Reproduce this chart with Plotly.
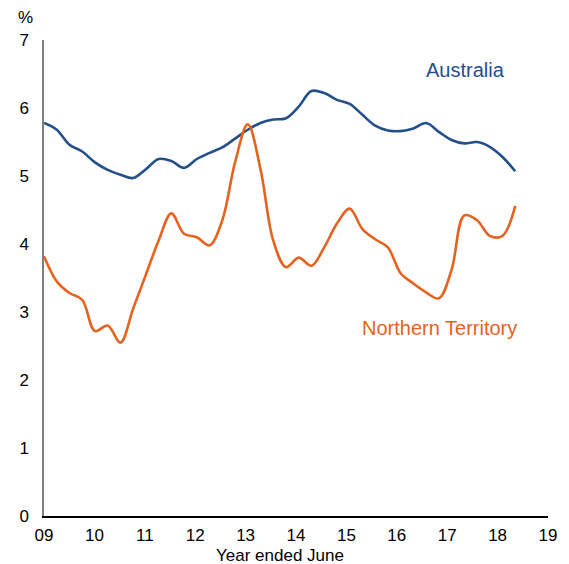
import plotly.graph_objects as go

# Quarterly observations (year ended June), Jun-2009 onward
quarter_index = list(range(38))
australia = [5.78, 5.68, 5.46, 5.36, 5.20, 5.09, 5.02, 4.97, 5.10, 5.25,
             5.22, 5.12, 5.25, 5.34, 5.42, 5.55, 5.68, 5.78, 5.83, 5.85,
             6.02, 6.25, 6.22, 6.12, 6.06, 5.90, 5.74, 5.67, 5.66, 5.70,
             5.78, 5.65, 5.53, 5.48, 5.50, 5.43, 5.28, 5.07]
northern_territory = [3.82, 3.45, 3.28, 3.18, 2.72, 2.80, 2.55, 3.05, 3.55, 4.05,
                      4.45, 4.15, 4.10, 3.98, 4.35, 5.20, 5.76, 5.10, 4.05, 3.66,
                      3.80, 3.68, 3.95, 4.30, 4.52, 4.22, 4.07, 3.95, 3.57, 3.42,
                      3.29, 3.20, 3.62, 4.42, 4.35, 4.12, 4.12, 4.56]
year_ticks = [2009, 2010, 2011, 2012, 2013, 2014, 2015, 2016, 2017, 2018, 2019]
year_labels = ["09", "10", "11", "12", "13", "14", "15", "16", "17", "18", "19"]
y_ticks = [0, 1, 2, 3, 4, 5, 6, 7]

start_year = 2009.0
step = 9.35 / 37
xs = [start_year + i * step for i in quarter_index]

blue = "#23508B"
orange = "#E4631F"
font = "Liberation Sans, Arial, sans-serif"

fig = go.Figure()
fig.add_trace(go.Scatter(x=xs, y=australia, mode="lines", name="Australia",
                         line=dict(color=blue, width=2.6, shape="spline", smoothing=1.0)))
fig.add_trace(go.Scatter(x=xs, y=northern_territory, mode="lines", name="Northern Territory",
                         line=dict(color=orange, width=2.6, shape="spline", smoothing=1.0)))

fig.update_layout(
    width=569, height=564,
    margin=dict(l=44, r=21, t=40, b=48, autoexpand=False),
    paper_bgcolor="white", plot_bgcolor="white",
    showlegend=False,
    font=dict(family=font, size=17, color="#000000"),
    xaxis=dict(range=[2009, 2019], tickvals=year_ticks, ticktext=year_labels,
               showgrid=False, zeroline=False, showline=True, linecolor="#000000",
               linewidth=1.5, ticks="", ticklabelstandoff=3, automargin=False,
               tickfont=dict(family=font, size=17, color="#000000")),
    yaxis=dict(range=[0, 7], tickvals=y_ticks, showgrid=False, zeroline=False,
               showline=True, linecolor="#7f7f7f", linewidth=1.5, ticks="",
               ticklabelstandoff=10, automargin=False,
               tickfont=dict(family=font, size=17, color="#000000")),
    annotations=[
        dict(text="%", xref="paper", yref="paper", x=-0.036, y=1.0, yshift=23,
             xanchor="center", yanchor="middle", showarrow=False,
             font=dict(family=font, size=17, color="#000000")),
        dict(text="Year ended June", xref="paper", yref="paper", x=0.468, y=0,
             yshift=-39, xanchor="center", yanchor="middle", showarrow=False,
             font=dict(family=font, size=17, color="#000000")),
        dict(text="Australia", xref="x", yref="y", x=2017.37, y=6.56,
             xanchor="center", yanchor="middle", showarrow=False,
             font=dict(family=font, size=20, color=blue)),
        dict(text="Northern Territory", xref="x", yref="y", x=2016.85, y=2.76,
             xanchor="center", yanchor="middle", showarrow=False,
             font=dict(family=font, size=20, color=orange)),
    ],
)

fig.write_html("out.html", config={"displayModeBar": False},
               post_script="document.body.style.margin='0';document.body.style.padding='0';")
